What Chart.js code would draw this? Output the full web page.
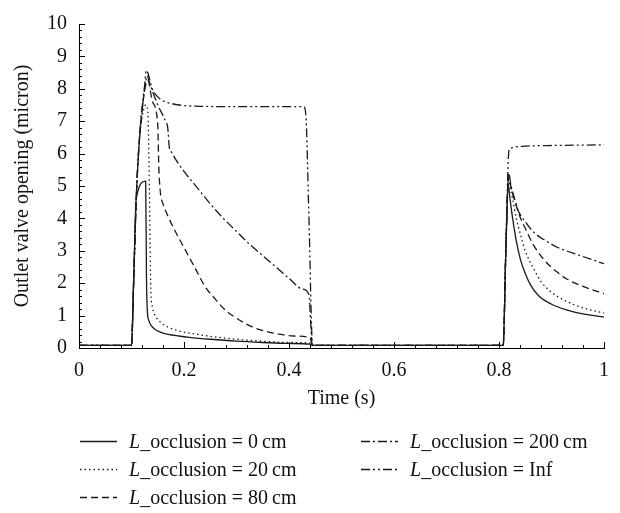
<!DOCTYPE html>
<html><head><meta charset="utf-8">
<script src="https://cdn.jsdelivr.net/npm/chart.js@4/dist/chart.umd.min.js"></script>
<style>
html,body{margin:0;padding:0;background:#fff;}
#wrap{position:relative;width:620px;height:513px;}
#c{position:absolute;left:0;top:0;}
.leg{position:absolute;font-family:'Liberation Serif',serif;font-size:20px;color:#111;white-space:nowrap;line-height:24px;}
.leg svg{position:absolute;left:0;top:0;}
.leg span.t{position:absolute;}
</style></head>
<body>
<div id="wrap"><canvas id="c" width="620" height="513"></canvas><div id="legend"></div></div>
<script>
// ---- data (time in s, opening in micron) ----
const seriesNames = ["0\u2009cm", "20\u2009cm", "80\u2009cm", "200\u2009cm", "Inf"];
const occ0 = [[0,0.08],[0.1,0.08],[0.104,2.0],[0.109,4.6],[0.127,5.15],[0.1285,2.2],[0.13,1.2],[0.133,0.85],[0.138,0.68],[0.145,0.57],[0.155,0.49],[0.17,0.42],[0.19,0.37],[0.21,0.33],[0.25,0.27],[0.3,0.21],[0.35,0.17],[0.4,0.14],[0.44,0.12],[0.445,0.08],[0.808,0.08],[0.813,3.0],[0.8175,5.05],[0.821,4.6],[0.826,4.0],[0.833,3.3],[0.841,2.72],[0.85,2.3],[0.86,1.95],[0.875,1.62],[0.9,1.35],[0.93,1.17],[0.96,1.05],[1.0,0.95]];
const occ20 = [[0,0.08],[0.1,0.08],[0.104,2.0],[0.109,4.6],[0.115,6.4],[0.12,7.1],[0.127,7.5],[0.131,7.3],[0.134,5.0],[0.136,2.5],[0.137,1.7],[0.14,1.25],[0.147,0.95],[0.155,0.8],[0.17,0.64],[0.19,0.53],[0.21,0.46],[0.25,0.36],[0.3,0.27],[0.35,0.21],[0.4,0.17],[0.44,0.15],[0.445,0.08],[0.808,0.08],[0.813,3.0],[0.818,5.2],[0.822,4.9],[0.826,4.6],[0.833,4.0],[0.841,3.5],[0.85,3.0],[0.867,2.42],[0.88,2.05],[0.9,1.72],[0.93,1.43],[0.96,1.24],[1.0,1.08]];
const occ80 = [[0,0.08],[0.1,0.08],[0.104,2.0],[0.109,4.6],[0.115,6.4],[0.12,7.3],[0.125,7.95],[0.131,8.27],[0.14,7.6],[0.15,6.9],[0.152,5.6],[0.155,4.8],[0.16,4.45],[0.17,4.05],[0.185,3.55],[0.2,3.1],[0.22,2.5],[0.24,1.9],[0.26,1.5],[0.28,1.15],[0.3,0.92],[0.33,0.65],[0.36,0.5],[0.38,0.43],[0.41,0.37],[0.44,0.32],[0.445,0.08],[0.808,0.08],[0.813,3.0],[0.8185,5.3],[0.823,4.95],[0.829,4.6],[0.84,4.05],[0.851,3.66],[0.865,3.2],[0.886,2.72],[0.91,2.35],[0.93,2.12],[0.96,1.9],[1.0,1.68]];
const occ200 = [[0,0.08],[0.1,0.08],[0.104,2.0],[0.109,4.6],[0.115,6.4],[0.12,7.3],[0.125,8.0],[0.13,8.4],[0.134,8.2],[0.15,7.5],[0.165,7.0],[0.169,6.8],[0.172,6.2],[0.176,6.05],[0.185,5.8],[0.2,5.45],[0.225,4.95],[0.25,4.45],[0.275,4.0],[0.3,3.6],[0.325,3.2],[0.35,2.85],[0.375,2.5],[0.4,2.15],[0.425,1.82],[0.438,1.65],[0.441,0.9],[0.444,0.08],[0.808,0.08],[0.813,3.0],[0.8185,5.4],[0.823,5.0],[0.829,4.65],[0.835,4.3],[0.85,3.9],[0.867,3.56],[0.89,3.3],[0.911,3.11],[0.95,2.88],[1.0,2.6]];
const occInf = [[0,0.08],[0.1,0.08],[0.104,2.0],[0.109,4.6],[0.115,6.5],[0.12,7.4],[0.125,8.1],[0.128,8.57],[0.14,7.98],[0.15,7.75],[0.16,7.63],[0.175,7.55],[0.191,7.5],[0.23,7.46],[0.3,7.45],[0.428,7.45],[0.432,7.2],[0.438,4.0],[0.445,0.08],[0.808,0.08],[0.813,3.0],[0.819,6.1],[0.823,6.17],[0.829,6.2],[0.85,6.23],[0.867,6.24],[0.9,6.25],[1.0,6.27]];
const xTickValues = [0, 0.2, 0.4, 0.6, 0.8, 1];
const yTickValues = [0,1,2,3,4,5,6,7,8,9,10];

const dashes = [[], [1.5,3], [7,4], [9,3,2,3], [9,3,2,3,2,3]];
const allData = [occ0, occ20, occ80, occ200, occInf];
const INK = '#1a1a1a';
const FONT = "'Liberation Serif', serif";

const tickPlugin = {
  id: 'innerTicks',
  afterDraw(chart){
    const {ctx, chartArea: ca, scales: {x, y}} = chart;
    ctx.save();
    ctx.strokeStyle = '#000'; ctx.lineWidth = 1;
    ctx.beginPath();
    for (let i = 0; i <= 25; i++) {
      const px = Math.round(x.getPixelForValue(i*0.04)) + 0.5;
      const len = (i % 5 === 0) ? 6 : 3;
      ctx.moveTo(px, ca.bottom); ctx.lineTo(px, ca.bottom - len);
    }
    for (let i = 0; i <= 50; i++) {
      const py = Math.round(y.getPixelForValue(i*0.2)) + 0.5;
      const len = (i % 5 === 0) ? 6 : 3;
      ctx.moveTo(ca.left, py); ctx.lineTo(ca.left + len, py);
    }
    ctx.stroke();
    ctx.restore();
  }
};

new Chart(document.getElementById('c'), {
  type: 'line',
  data: {
    datasets: allData.map((d, i) => ({
      label: 'L_occlusion = ' + seriesNames[i],
      data: d.map(p => ({x: p[0], y: p[1]})),
      borderColor: INK, borderWidth: 1.3, borderDash: dashes[i],
      pointRadius: 0, fill: false, cubicInterpolationMode: 'monotone'
    }))
  },
  options: {
    responsive: false, animation: false, devicePixelRatio: 1,
    layout: {padding: {left: 0, right: 13, top: 12, bottom: 95}},
    plugins: {legend: {display: false}, tooltip: {enabled: false}},
    scales: {
      x: {
        type: 'linear', min: 0, max: 1,
        afterFit: s => { s.height = 70; },
        afterBuildTicks: s => { s.ticks = xTickValues.map(v => ({value: v})); },
        grid: {display: false, drawTicks: false},
        border: {display: true, color: '#000', width: 1},
        ticks: {color: '#111', padding: 11, font: {family: FONT, size: 20}, maxRotation: 0,
                callback: v => String(Math.round(v*10)/10)},
        title: {display: true, text: 'Time (s)', color: '#111', font: {family: FONT, size: 20}, padding: {top: 0, bottom: 7}}
      },
      y: {
        type: 'linear', min: 0, max: 10,
        afterFit: s => { s.width = 79; },
        afterBuildTicks: s => { s.ticks = yTickValues.map(v => ({value: v})); },
        grid: {display: false, drawTicks: false},
        border: {display: true, color: '#000', width: 1},
        ticks: {color: '#111', padding: 12, font: {family: FONT, size: 20}},
        title: {display: true, text: 'Outlet valve opening (micron)', color: '#111', font: {family: FONT, size: 20}, padding: {top: 11, bottom: 0}}
      }
    }
  },
  plugins: [tickPlugin]
});

// ---- HTML legend ----
const legendPos = [[80,441],[80,469],[80,497],[361,441],[361,469]];
const legEl = document.getElementById('legend');
allData.forEach((d, i) => {
  const [lx, cy] = legendPos[i];
  const div = document.createElement('div');
  div.className = 'leg';
  div.style.left = lx + 'px'; div.style.top = (cy - 12) + 'px';
  div.style.width = '260px'; div.style.height = '24px';
  const da = dashes[i].length ? dashes[i].join(',') : 'none';
  div.innerHTML = '<svg width="38" height="24"><line x1="0" y1="12.5" x2="37" y2="12.5" stroke="' + INK + '" stroke-width="1.3" stroke-dasharray="' + da + '"/></svg>' +
    '<span class="t" style="left:49px;top:0"><i>L</i>_occlusion = ' + seriesNames[i] + '</span>';
  legEl.appendChild(div);
});
</script>
</body></html>
